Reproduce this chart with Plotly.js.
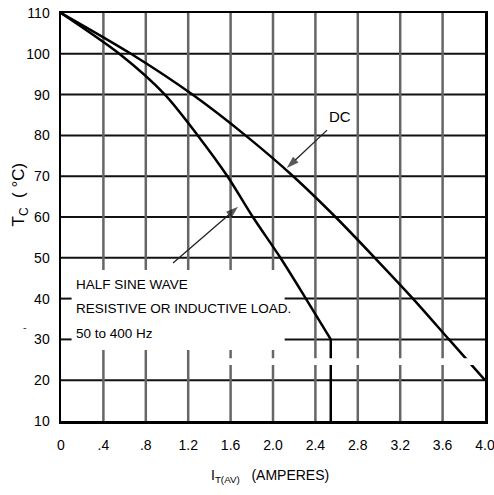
<!DOCTYPE html>
<html>
<head>
<meta charset="utf-8">
<script src="https://cdn.plot.ly/plotly-3.0.1.min.js"></script>
<style>
  html, body { margin: 0; padding: 0; background: #ffffff; }
  #chart { width: 494px; height: 495px; }
</style>
</head>
<body>
<div id="chart"></div>
<script>
// ---- data ----
const xTickVals = [0, 0.4, 0.8, 1.2, 1.6, 2.0, 2.4, 2.8, 3.2, 3.6, 4.0];
const xTickText = ["0", ".4", ".8", "1.2", "1.6", "2.0", "2.4", "2.8", "3.2", "3.6", "4.0"];
const yTickVals = [10, 20, 30, 40, 50, 60, 70, 80, 90, 100, 110];
const yTickText = ["10", "20", "30", "40", "50", "60", "70", "80", "90", "100", "110"];

// DC curve: case temperature vs average current
const dcCurrent = [0, 0.66, 1.24, 1.74, 2.19, 2.59, 2.96, 3.32, 3.66, 4.0];
const dcTemp    = [110, 100, 90, 80, 70, 60, 50, 40, 30, 20];

// Half sine wave curve
const halfSineCurrent = [0, 0.55, 0.98, 1.29, 1.57, 1.81, 2.07, 2.31, 2.545];
const halfSineTemp    = [110, 100, 90, 80, 70, 60, 50, 40, 30];

// vertical drop at end of half sine curve
const dropCurrent = [2.545, 2.545];
const dropTemp    = [30, 10];

// pointer arrows (tail -> tip)
const dcArrowCurrent = [2.51, 2.13];
const dcArrowTemp    = [81.3, 72.0];
const hsArrowCurrent = [1.057, 1.67];
const hsArrowTemp    = [48.7, 62.5];

const FONT = "'Liberation Sans', Arial, sans-serif";

// ---- gridlines (built from tick arrays) ----
const shapes = [];
const gridH = { color: "#111", width: 2 };
const gridV = { color: "#666", width: 2.5 };
yTickVals.forEach(v => {
  if (v === 10 || v === 110) return;
  if (v === 30 || v === 40) {
    shapes.push({ type: "line", xref: "x", yref: "y", x0: 2.11, x1: 4.0, y0: v, y1: v, line: gridH, layer: "below" });
    shapes.push({ type: "line", xref: "x", yref: "y", x0: 0, x1: 0.1, y0: v, y1: v, line: gridH, layer: "below" });
  } else {
    shapes.push({ type: "line", xref: "x", yref: "y", x0: 0, x1: 4.0, y0: v, y1: v, line: gridH, layer: "below" });
  }
});
xTickVals.forEach(v => {
  if (v === 0 || v === 4.0) return;
  if (v <= 2.0) {
    shapes.push({ type: "line", xref: "x", yref: "y", x0: v, x1: v, y0: 110, y1: 47, line: gridV, layer: "below" });
    shapes.push({ type: "line", xref: "x", yref: "y", x0: v, x1: v, y0: 27.4, y1: 10, line: gridV, layer: "below" });
  } else {
    shapes.push({ type: "line", xref: "x", yref: "y", x0: v, x1: v, y0: 110, y1: 10, line: gridV, layer: "below" });
  }
});
// scan gap band
shapes.push({ type: "rect", xref: "x", yref: "y", x0: 1.5, x1: 3.99, y0: 23.7, y1: 25.4,
  fillcolor: "#ffffff", line: { width: 0 }, layer: "above" });

const arrowMarker = { symbol: ["circle", "arrow"], size: [0, 13], angleref: "previous", color: "#111", line: { width: 0 } };
const traces = [
  { x: dcCurrent, y: dcTemp, mode: "lines", line: { color: "#000", width: 2.5, shape: "spline", smoothing: 0.8 }, hoverinfo: "skip" },
  { x: halfSineCurrent, y: halfSineTemp, mode: "lines", line: { color: "#000", width: 2.5, shape: "spline", smoothing: 0.8 }, hoverinfo: "skip" },
  { x: dropCurrent, y: dropTemp, mode: "lines", line: { color: "#000", width: 2.5 }, hoverinfo: "skip" },
  { x: dcArrowCurrent, y: dcArrowTemp, mode: "lines+markers", line: { color: "#222", width: 1.3 }, marker: arrowMarker, hoverinfo: "skip" },
  { x: hsArrowCurrent, y: hsArrowTemp, mode: "lines+markers", line: { color: "#222", width: 1.3 }, marker: arrowMarker, hoverinfo: "skip" }
];

const TXT = { family: FONT, size: 14, color: "#000" };
const annotations = [
  { x: 2.63, y: 84.6, xref: "x", yref: "y", text: "DC", showarrow: false, font: { family: FONT, size: 15, color: "#000" } },
  // text block
  { x: 0.12, y: 43.4, xref: "x", yref: "y", xanchor: "left", text: "HALF SINE WAVE", showarrow: false, font: { family: FONT, size: 13.5, color: "#000" } },
  { x: 0.12, y: 37.5, xref: "x", yref: "y", xanchor: "left", text: "RESISTIVE OR INDUCTIVE LOAD.", showarrow: false, font: { family: FONT, size: 13.5, color: "#000" } },
  { x: 0.12, y: 31.4, xref: "x", yref: "y", xanchor: "left", text: "50 to 400 Hz", showarrow: false, font: { family: FONT, size: 13.5, color: "#000" } },
  // axis titles
  { x: 0.493, y: 0, xref: "paper", yref: "paper", yanchor: "middle", yshift: -55, text: "I<sub>T(AV)</sub>   (AMPERES)", showarrow: false, font: TXT },
  { x: -0.097, y: 0.555, xref: "paper", yref: "paper", xanchor: "center", yanchor: "middle", textangle: -90, text: "T<sub>C</sub>  ( °C)", showarrow: false, font: { family: FONT, size: 17, color: "#000" } },
  // stray mark
  { x: -0.095, y: 0.212, xref: "paper", yref: "paper", text: "-", showarrow: false, font: { family: FONT, size: 11, color: "#333" } }
];

const layout = {
  width: 494, height: 495,
  margin: { l: 61, r: 9, t: 13, b: 74 },
  paper_bgcolor: "#ffffff", plot_bgcolor: "#ffffff",
  showlegend: false,
  xaxis: {
    range: [0, 4.0], tickvals: xTickVals, ticktext: xTickText, ticks: "", ticklabelstandoff: 10,
    ticklabeloverflow: "allow",
    showgrid: false, zeroline: false, showline: true, linecolor: "#000", linewidth: 2.5, mirror: true,
    tickfont: TXT, fixedrange: true
  },
  yaxis: {
    range: [10, 110], tickvals: yTickVals, ticktext: yTickText, ticks: "", ticklabelstandoff: 6,
    ticklabeloverflow: "allow",
    showgrid: false, zeroline: false, showline: true, linecolor: "#000", linewidth: 2.5, mirror: true,
    tickfont: TXT, fixedrange: true
  },
  shapes: shapes,
  annotations: annotations
};

Plotly.newPlot("chart", traces, layout, { displayModeBar: false, staticPlot: true });
</script>
</body>
</html>
